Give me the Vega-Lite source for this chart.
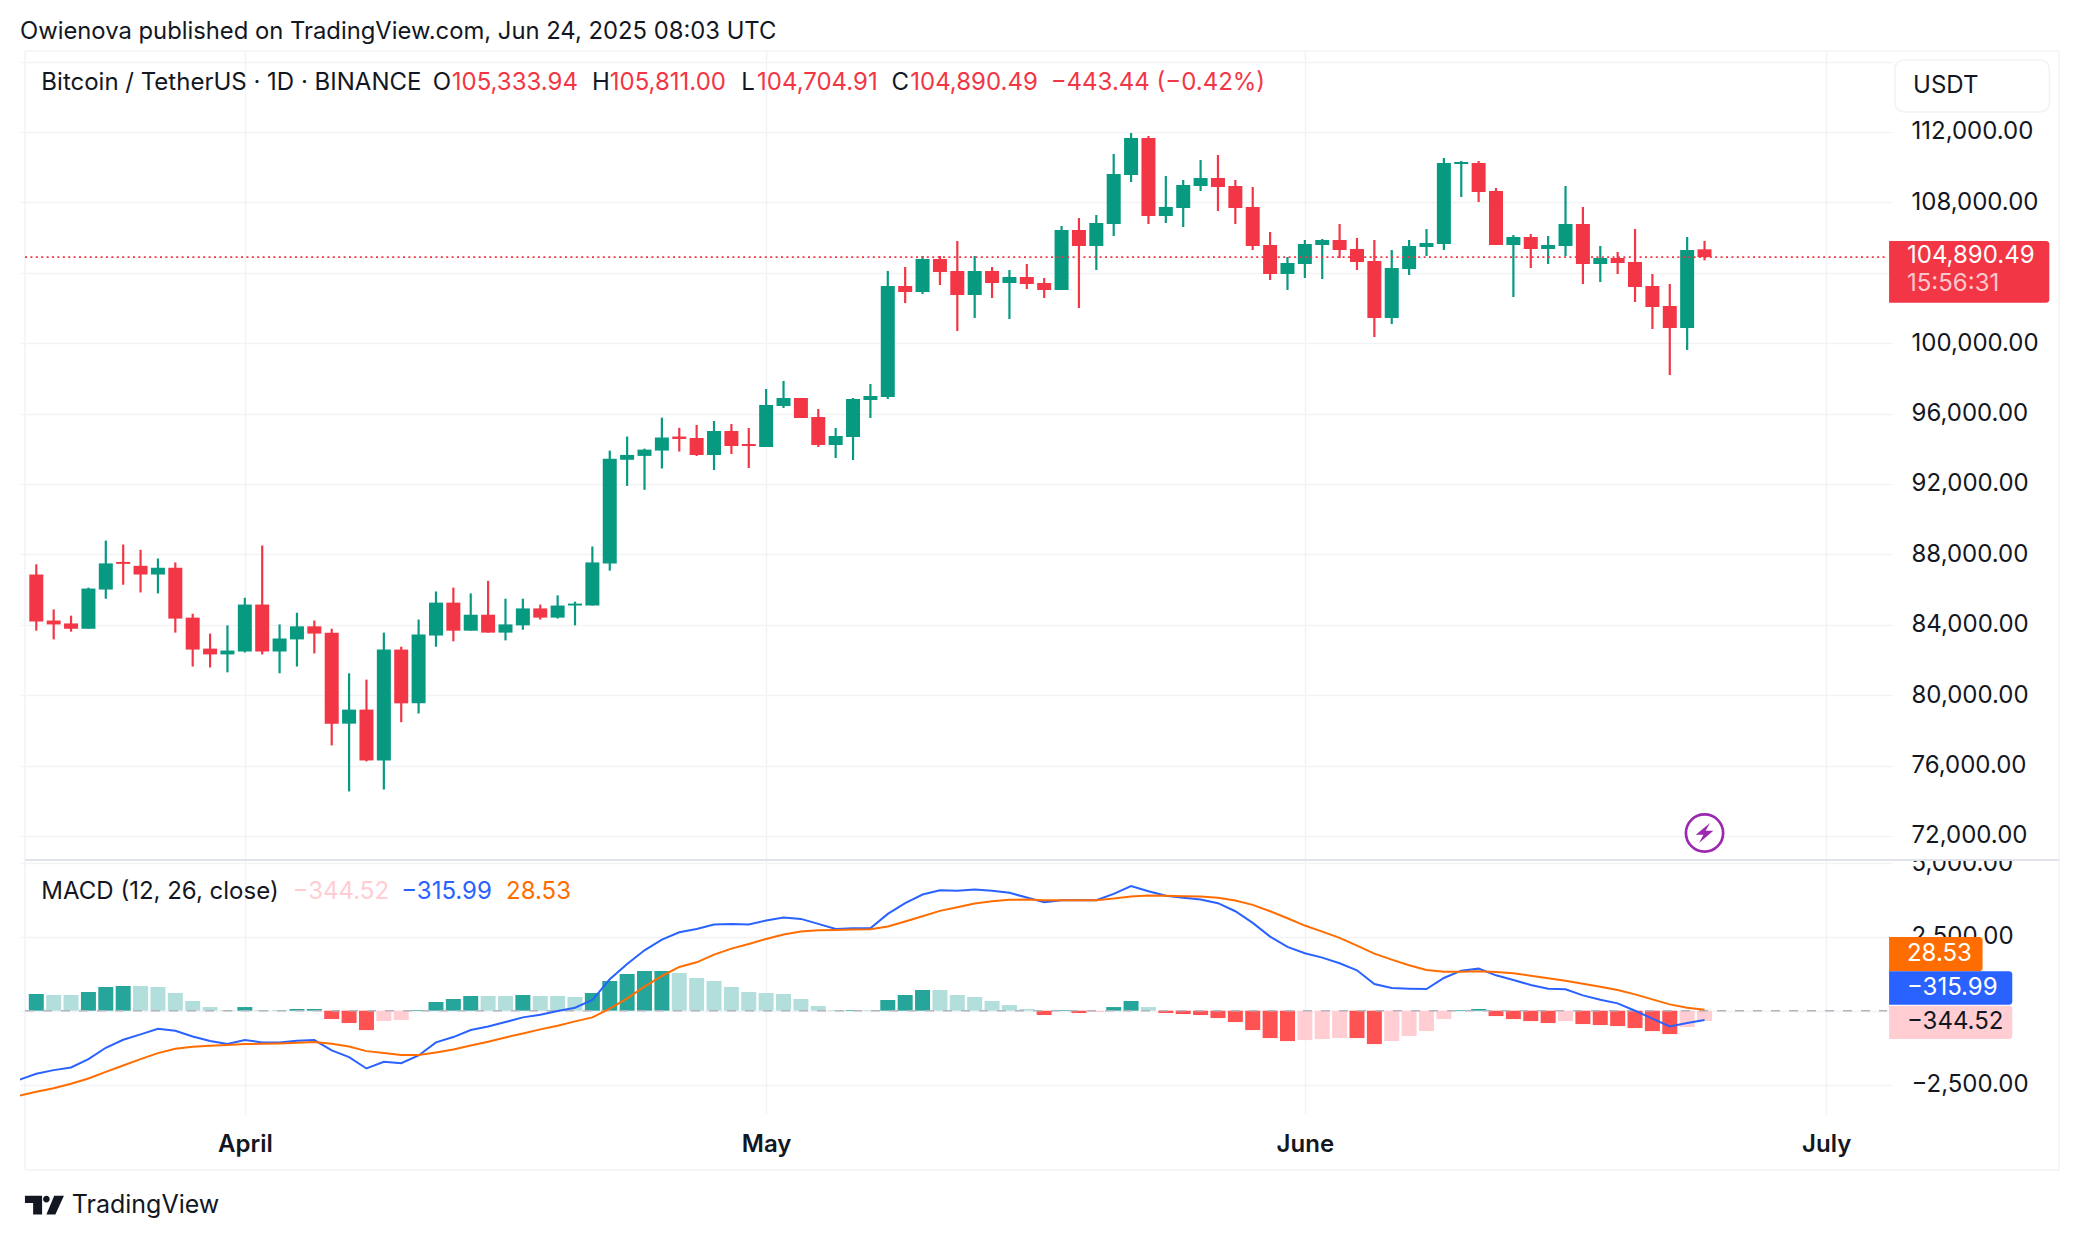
{
  "$schema": "https://vega.github.io/schema/vega-lite/v6.json",
  "background": "white",
  "padding": {"left": 20, "top": 20, "right": 0, "bottom": 0},
  "spacing": 0,
  "bounds": "flush",
  "title": {"text": "Owienova published on TradingView.com, Jun 24, 2025 08:03 UTC", "anchor": "start", "font": "Inter", "fontSize": 23.8, "fontWeight": "normal", "color": "#131722", "offset": 6},
  "config": {
    "view": {"stroke": null},
    "axis": {"gridColor": "#f2f3f5", "gridWidth": 1.5, "domain": false, "ticks": false, "title": null, "labelFont": "Inter", "labelFontSize": 24, "labelColor": "#131722"},
    "text": {"font": "Inter", "fontSize": 24, "align": "left", "baseline": "middle"}
  },
  "datasets": {
    "candles": [
      {"date":"2025-03-20","open":86856,"high":87434,"low":83665,"close":84187},
      {"date":"2025-03-21","open":84242,"high":84875,"low":83170,"close":84022},
      {"date":"2025-03-22","open":84077,"high":84518,"low":83610,"close":83775},
      {"date":"2025-03-23","open":83775,"high":86113,"low":83775,"close":86058},
      {"date":"2025-03-24","open":86003,"high":88782,"low":85480,"close":87489},
      {"date":"2025-03-25","open":87571,"high":88561,"low":86278,"close":87461},
      {"date":"2025-03-26","open":87351,"high":88259,"low":85838,"close":86856},
      {"date":"2025-03-27","open":86856,"high":87764,"low":85783,"close":87241},
      {"date":"2025-03-28","open":87241,"high":87544,"low":83555,"close":84352},
      {"date":"2025-03-29","open":84407,"high":84628,"low":81629,"close":82592},
      {"date":"2025-03-30","open":82647,"high":83500,"low":81574,"close":82317},
      {"date":"2025-03-31","open":82317,"high":83967,"low":81299,"close":82537},
      {"date":"2025-04-01","open":82482,"high":85535,"low":82427,"close":85150},
      {"date":"2025-04-02","open":85150,"high":88506,"low":82317,"close":82482},
      {"date":"2025-04-03","open":82482,"high":84022,"low":81244,"close":83225},
      {"date":"2025-04-04","open":83170,"high":84683,"low":81629,"close":83912},
      {"date":"2025-04-05","open":83912,"high":84242,"low":82372,"close":83500},
      {"date":"2025-04-06","open":83555,"high":83775,"low":77145,"close":78383},
      {"date":"2025-04-07","open":78383,"high":81244,"low":74531,"close":79181},
      {"date":"2025-04-08","open":79181,"high":80886,"low":76237,"close":76292},
      {"date":"2025-04-09","open":76292,"high":83555,"low":74641,"close":82592},
      {"date":"2025-04-10","open":82592,"high":82757,"low":78465,"close":79538},
      {"date":"2025-04-11","open":79538,"high":84297,"low":78960,"close":83445},
      {"date":"2025-04-12","open":83390,"high":85893,"low":82757,"close":85260},
      {"date":"2025-04-13","open":85260,"high":86113,"low":83059,"close":83665},
      {"date":"2025-04-14","open":83665,"high":85783,"low":83665,"close":84573},
      {"date":"2025-04-15","open":84573,"high":86498,"low":83555,"close":83555},
      {"date":"2025-04-16","open":83555,"high":85480,"low":83114,"close":84022},
      {"date":"2025-04-17","open":83967,"high":85480,"low":83720,"close":84930},
      {"date":"2025-04-18","open":84930,"high":85150,"low":84297,"close":84407},
      {"date":"2025-04-19","open":84407,"high":85673,"low":84352,"close":85095},
      {"date":"2025-04-20","open":85095,"high":85315,"low":83967,"close":85205},
      {"date":"2025-04-21","open":85095,"high":88451,"low":85095,"close":87544},
      {"date":"2025-04-22","open":87489,"high":93898,"low":87076,"close":93431},
      {"date":"2025-04-23","open":93376,"high":94696,"low":91890,"close":93651},
      {"date":"2025-04-24","open":93596,"high":94008,"low":91670,"close":93953},
      {"date":"2025-04-25","open":93898,"high":95769,"low":92881,"close":94641},
      {"date":"2025-04-26","open":94696,"high":95191,"low":93843,"close":94559},
      {"date":"2025-04-27","open":94613,"high":95352,"low":93590,"close":93647},
      {"date":"2025-04-28","open":93647,"high":95579,"low":92795,"close":95011},
      {"date":"2025-04-29","open":95011,"high":95409,"low":93704,"close":94159},
      {"date":"2025-04-30","open":94272,"high":95181,"low":92908,"close":94159},
      {"date":"2025-05-01","open":94102,"high":97397,"low":94102,"close":96488},
      {"date":"2025-05-02","open":96431,"high":97852,"low":96318,"close":96886},
      {"date":"2025-05-03","open":96886,"high":96886,"low":95749,"close":95749},
      {"date":"2025-05-04","open":95806,"high":96261,"low":94102,"close":94215},
      {"date":"2025-05-05","open":94215,"high":95181,"low":93477,"close":94727},
      {"date":"2025-05-06","open":94670,"high":96886,"low":93363,"close":96829},
      {"date":"2025-05-07","open":96772,"high":97681,"low":95749,"close":97000},
      {"date":"2025-05-08","open":96943,"high":104102,"low":96829,"close":103250},
      {"date":"2025-05-09","open":103250,"high":104329,"low":102284,"close":102909},
      {"date":"2025-05-10","open":102909,"high":104954,"low":102795,"close":104784},
      {"date":"2025-05-11","open":104784,"high":104954,"low":103307,"close":104045},
      {"date":"2025-05-12","open":104102,"high":105807,"low":100693,"close":102738},
      {"date":"2025-05-13","open":102738,"high":104954,"low":101431,"close":104102},
      {"date":"2025-05-14","open":104102,"high":104329,"low":102568,"close":103420},
      {"date":"2025-05-15","open":103420,"high":104159,"low":101375,"close":103761},
      {"date":"2025-05-16","open":103761,"high":104500,"low":103079,"close":103363},
      {"date":"2025-05-17","open":103420,"high":103704,"low":102568,"close":103022},
      {"date":"2025-05-18","open":103022,"high":106659,"low":103022,"close":106432},
      {"date":"2025-05-19","open":106432,"high":107113,"low":102000,"close":105523},
      {"date":"2025-05-20","open":105523,"high":107284,"low":104159,"close":106829},
      {"date":"2025-05-21","open":106773,"high":110750,"low":106091,"close":109614},
      {"date":"2025-05-22","open":109557,"high":111943,"low":109159,"close":111659},
      {"date":"2025-05-23","open":111659,"high":111773,"low":106773,"close":107227},
      {"date":"2025-05-24","open":107227,"high":109500,"low":106829,"close":107738},
      {"date":"2025-05-25","open":107682,"high":109273,"low":106602,"close":108989},
      {"date":"2025-05-26","open":108932,"high":110409,"low":108648,"close":109386},
      {"date":"2025-05-27","open":109386,"high":110693,"low":107511,"close":108875},
      {"date":"2025-05-28","open":108932,"high":109273,"low":106773,"close":107682},
      {"date":"2025-05-29","open":107738,"high":108875,"low":105295,"close":105523},
      {"date":"2025-05-30","open":105579,"high":106318,"low":103591,"close":103932},
      {"date":"2025-05-31","open":103932,"high":104897,"low":103022,"close":104557},
      {"date":"2025-06-01","open":104500,"high":105863,"low":103704,"close":105636},
      {"date":"2025-06-02","open":105579,"high":105920,"low":103647,"close":105863},
      {"date":"2025-06-03","open":105863,"high":106773,"low":104841,"close":105295},
      {"date":"2025-06-04","open":105352,"high":105977,"low":104159,"close":104613},
      {"date":"2025-06-05","open":104670,"high":105863,"low":100352,"close":101431},
      {"date":"2025-06-06","open":101431,"high":105295,"low":101091,"close":104272},
      {"date":"2025-06-07","open":104216,"high":105863,"low":103875,"close":105523},
      {"date":"2025-06-08","open":105466,"high":106488,"low":104954,"close":105693},
      {"date":"2025-06-09","open":105636,"high":110523,"low":105295,"close":110239},
      {"date":"2025-06-10","open":110182,"high":110352,"low":108307,"close":110295},
      {"date":"2025-06-11","open":110239,"high":110352,"low":108023,"close":108591},
      {"date":"2025-06-12","open":108648,"high":108818,"low":105579,"close":105579},
      {"date":"2025-06-13","open":105579,"high":106148,"low":102625,"close":106034},
      {"date":"2025-06-14","open":106034,"high":106204,"low":104272,"close":105352},
      {"date":"2025-06-15","open":105352,"high":106091,"low":104500,"close":105579},
      {"date":"2025-06-16","open":105523,"high":108932,"low":104954,"close":106773},
      {"date":"2025-06-17","open":106773,"high":107738,"low":103363,"close":104500},
      {"date":"2025-06-18","open":104500,"high":105523,"low":103477,"close":104841},
      {"date":"2025-06-19","open":104841,"high":105182,"low":103932,"close":104557},
      {"date":"2025-06-20","open":104613,"high":106488,"low":102341,"close":103193},
      {"date":"2025-06-21","open":103250,"high":103932,"low":100806,"close":102057},
      {"date":"2025-06-22","open":102113,"high":103363,"low":98193,"close":100863},
      {"date":"2025-06-23","open":100863,"high":106034,"low":99613,"close":105295},
      {"date":"2025-06-24","open":105333.94,"high":105811,"low":104704.91,"close":104890.49}
    ],
    "macd": [
      {"date":"2025-03-19","hist":null,"phase":null,"macd":-2341,"signal":-2884},
      {"date":"2025-03-20","hist":565,"phase":"up","macd":-2138,"signal":-2748},
      {"date":"2025-03-21","hist":532,"phase":"upFading","macd":-2013,"signal":-2624},
      {"date":"2025-03-22","hist":532,"phase":"upFading","macd":-1923,"signal":-2477},
      {"date":"2025-03-23","hist":633,"phase":"up","macd":-1640,"signal":-2296},
      {"date":"2025-03-24","hist":803,"phase":"up","macd":-1255,"signal":-2070},
      {"date":"2025-03-25","hist":837,"phase":"up","macd":-984,"signal":-1855},
      {"date":"2025-03-26","hist":837,"phase":"upFading","macd":-803,"signal":-1640},
      {"date":"2025-03-27","hist":803,"phase":"upFading","macd":-611,"signal":-1436},
      {"date":"2025-03-28","hist":600,"phase":"upFading","macd":-679,"signal":-1289},
      {"date":"2025-03-29","hist":328,"phase":"upFading","macd":-871,"signal":-1221},
      {"date":"2025-03-30","hist":124,"phase":"upFading","macd":-1029,"signal":-1188},
      {"date":"2025-03-31","hist":23,"phase":"upFading","macd":-1131,"signal":-1165},
      {"date":"2025-04-01","hist":124,"phase":"up","macd":-995,"signal":-1131},
      {"date":"2025-04-02","hist":23,"phase":"upFading","macd":-1074,"signal":-1120},
      {"date":"2025-04-03","hist":23,"phase":"upFading","macd":-1074,"signal":-1108},
      {"date":"2025-04-04","hist":57,"phase":"up","macd":-1018,"signal":-1086},
      {"date":"2025-04-05","hist":57,"phase":"up","macd":-995,"signal":-1063},
      {"date":"2025-04-06","hist":-283,"phase":"down","macd":-1346,"signal":-1120},
      {"date":"2025-04-07","hist":-418,"phase":"down","macd":-1572,"signal":-1210},
      {"date":"2025-04-08","hist":-656,"phase":"down","macd":-1957,"signal":-1369},
      {"date":"2025-04-09","hist":-351,"phase":"downFading","macd":-1730,"signal":-1436},
      {"date":"2025-04-10","hist":-317,"phase":"downFading","macd":-1776,"signal":-1504},
      {"date":"2025-04-11","hist":23,"phase":"up","macd":-1516,"signal":-1504},
      {"date":"2025-04-12","hist":294,"phase":"up","macd":-1074,"signal":-1414},
      {"date":"2025-04-13","hist":396,"phase":"up","macd":-893,"signal":-1312},
      {"date":"2025-04-14","hist":498,"phase":"up","macd":-656,"signal":-1176},
      {"date":"2025-04-15","hist":498,"phase":"upFading","macd":-532,"signal":-1052},
      {"date":"2025-04-16","hist":498,"phase":"upFading","macd":-385,"signal":-905},
      {"date":"2025-04-17","hist":532,"phase":"up","macd":-226,"signal":-769},
      {"date":"2025-04-18","hist":498,"phase":"upFading","macd":-136,"signal":-633},
      {"date":"2025-04-19","hist":498,"phase":"upFading","macd":-11,"signal":-509},
      {"date":"2025-04-20","hist":464,"phase":"upFading","macd":102,"signal":-362},
      {"date":"2025-04-21","hist":600,"phase":"up","macd":362,"signal":-226},
      {"date":"2025-04-22","hist":1007,"phase":"up","macd":1063,"signal":68},
      {"date":"2025-04-23","hist":1244,"phase":"up","macd":1583,"signal":418},
      {"date":"2025-04-24","hist":1346,"phase":"up","macd":2047,"signal":814},
      {"date":"2025-04-25","hist":1346,"phase":"up","macd":2409,"signal":1176},
      {"date":"2025-04-26","hist":1278,"phase":"upFading","macd":2658,"signal":1482},
      {"date":"2025-04-27","hist":1108,"phase":"upFading","macd":2771,"signal":1640},
      {"date":"2025-04-28","hist":1007,"phase":"upFading","macd":2918,"signal":1900},
      {"date":"2025-04-29","hist":803,"phase":"upFading","macd":2941,"signal":2104},
      {"date":"2025-04-30","hist":633,"phase":"upFading","macd":2918,"signal":2262},
      {"date":"2025-05-01","hist":600,"phase":"upFading","macd":3054,"signal":2432},
      {"date":"2025-05-02","hist":565,"phase":"upFading","macd":3155,"signal":2579},
      {"date":"2025-05-03","hist":396,"phase":"upFading","macd":3110,"signal":2680},
      {"date":"2025-05-04","hist":158,"phase":"upFading","macd":2941,"signal":2726},
      {"date":"2025-05-05","hist":23,"phase":"upFading","macd":2771,"signal":2737},
      {"date":"2025-05-06","hist":23,"phase":"up","macd":2794,"signal":2748},
      {"date":"2025-05-07","hist":23,"phase":"upFading","macd":2794,"signal":2760},
      {"date":"2025-05-08","hist":362,"phase":"up","macd":3280,"signal":2850},
      {"date":"2025-05-09","hist":532,"phase":"up","macd":3642,"signal":3020},
      {"date":"2025-05-10","hist":701,"phase":"up","macd":3936,"signal":3201},
      {"date":"2025-05-11","hist":701,"phase":"upFading","macd":4083,"signal":3382},
      {"date":"2025-05-12","hist":532,"phase":"upFading","macd":4060,"signal":3506},
      {"date":"2025-05-13","hist":464,"phase":"upFading","macd":4106,"signal":3631},
      {"date":"2025-05-14","hist":328,"phase":"upFading","macd":4060,"signal":3710},
      {"date":"2025-05-15","hist":192,"phase":"upFading","macd":3992,"signal":3755},
      {"date":"2025-05-16","hist":57,"phase":"upFading","macd":3834,"signal":3766},
      {"date":"2025-05-17","hist":-147,"phase":"down","macd":3676,"signal":3744},
      {"date":"2025-05-18","hist":23,"phase":"up","macd":3744,"signal":3744},
      {"date":"2025-05-19","hist":-79,"phase":"down","macd":3744,"signal":3744},
      {"date":"2025-05-20","hist":-45,"phase":"downFading","macd":3744,"signal":3744},
      {"date":"2025-05-21","hist":124,"phase":"up","macd":3959,"signal":3800},
      {"date":"2025-05-22","hist":328,"phase":"up","macd":4219,"signal":3868},
      {"date":"2025-05-23","hist":124,"phase":"upFading","macd":4049,"signal":3902},
      {"date":"2025-05-24","hist":-79,"phase":"down","macd":3891,"signal":3891},
      {"date":"2025-05-25","hist":-113,"phase":"down","macd":3823,"signal":3879},
      {"date":"2025-05-26","hist":-147,"phase":"down","macd":3766,"signal":3868},
      {"date":"2025-05-27","hist":-249,"phase":"down","macd":3642,"signal":3823},
      {"date":"2025-05-28","hist":-385,"phase":"down","macd":3370,"signal":3732},
      {"date":"2025-05-29","hist":-656,"phase":"down","macd":2975,"signal":3585},
      {"date":"2025-05-30","hist":-927,"phase":"down","macd":2511,"signal":3370},
      {"date":"2025-05-31","hist":-1029,"phase":"down","macd":2160,"signal":3133},
      {"date":"2025-06-01","hist":-995,"phase":"downFading","macd":1945,"signal":2884},
      {"date":"2025-06-02","hist":-961,"phase":"downFading","macd":1798,"signal":2680},
      {"date":"2025-06-03","hist":-927,"phase":"downFading","macd":1606,"signal":2466},
      {"date":"2025-06-04","hist":-927,"phase":"down","macd":1369,"signal":2205},
      {"date":"2025-06-05","hist":-1131,"phase":"down","macd":905,"signal":1934},
      {"date":"2025-06-06","hist":-1029,"phase":"downFading","macd":769,"signal":1730},
      {"date":"2025-06-07","hist":-860,"phase":"downFading","macd":746,"signal":1538},
      {"date":"2025-06-08","hist":-690,"phase":"downFading","macd":735,"signal":1380},
      {"date":"2025-06-09","hist":-283,"phase":"downFading","macd":1108,"signal":1323},
      {"date":"2025-06-10","hist":23,"phase":"up","macd":1357,"signal":1323},
      {"date":"2025-06-11","hist":57,"phase":"up","macd":1425,"signal":1335},
      {"date":"2025-06-12","hist":-181,"phase":"down","macd":1199,"signal":1312},
      {"date":"2025-06-13","hist":-283,"phase":"down","macd":1041,"signal":1267},
      {"date":"2025-06-14","hist":-351,"phase":"down","macd":871,"signal":1188},
      {"date":"2025-06-15","hist":-418,"phase":"down","macd":746,"signal":1097},
      {"date":"2025-06-16","hist":-351,"phase":"downFading","macd":724,"signal":1018},
      {"date":"2025-06-17","hist":-452,"phase":"down","macd":520,"signal":916},
      {"date":"2025-06-18","hist":-486,"phase":"down","macd":373,"signal":814},
      {"date":"2025-06-19","hist":-520,"phase":"down","macd":249,"signal":701},
      {"date":"2025-06-20","hist":-588,"phase":"down","macd":0,"signal":554},
      {"date":"2025-06-21","hist":-690,"phase":"down","macd":-271,"signal":385},
      {"date":"2025-06-22","hist":-792,"phase":"down","macd":-532,"signal":215},
      {"date":"2025-06-23","hist":-554,"phase":"downFading","macd":-418,"signal":102},
      {"date":"2025-06-24","hist":-344.52,"phase":"downFading","macd":-315.99,"signal":28.53}
    ]
  },
  "vconcat": [
    {
      "width": 1872,
      "height": 809,
      "encoding": {
        "x": {"type": "temporal", "axis": {"labels": false, "grid": true, "values": [{"year":2025,"month":"apr","date":1,"utc":true},{"year":2025,"month":"may","date":1,"utc":true},{"year":2025,"month":"jun","date":1,"utc":true},{"year":2025,"month":"jul","date":1,"utc":true}]}, "scale": {"type": "utc", "domain": [{"year":2025,"month":"mar","date":19,"hours":8,"minutes":24,"utc":true},{"year":2025,"month":"jul","date":4,"hours":12,"utc":true}]}}
      },
      "layer": [
        {
          "data": {"values": [
            {"x0":"2025-03-19T08:24:00Z","x1":"2025-07-14T09:36:00Z","y0":116602,"y1":116602},
            {"x0":"2025-03-19T08:24:00Z","x1":"2025-03-19T08:24:00Z","y0":116602,"y1":70636},
            {"x0":"2025-07-14T09:36:00Z","x1":"2025-07-14T09:36:00Z","y0":116602,"y1":70636}
          ]},
          "mark": {"type": "rule", "color": "#f2f3f5", "strokeWidth": 1.5},
          "encoding": {
            "x": {"field": "x0"},
            "x2": {"field": "x1"},
            "y": {"field": "y0", "type": "quantitative", "scale": {"domain": [70636, 116602]}, "axis": {"orient": "right", "grid": true, "values": [72000,76000,80000,84000,88000,92000,96000,100000,104000,108000,112000,116000], "format": ",.2f", "labelPadding": 19, "labelExpr": "datum.value > 112000 ? '' : datum.label"}},
            "y2": {"field": "y1"}
          }
        },
        {
          "data": {"name": "candles"},
          "mark": {"type": "rule", "strokeWidth": 2.2},
          "encoding": {
            "x": {"field": "date"},
            "y": {"field": "low", "type": "quantitative", "scale": {"domain": [70636, 116602]}},
            "y2": {"field": "high"},
            "color": {"condition": {"test": "datum.close >= datum.open", "value": "#089981"}, "value": "#f23645"}
          }
        },
        {
          "data": {"name": "candles"},
          "mark": {"type": "bar", "size": 14},
          "encoding": {
            "x": {"field": "date"},
            "y": {"field": "open", "type": "quantitative", "scale": {"domain": [70636, 116602]}},
            "y2": {"field": "close"},
            "color": {"condition": {"test": "datum.close >= datum.open", "value": "#089981"}, "value": "#f23645"}
          }
        },
        {
          "data": {"values": [{"x0":"2025-03-19T08:24:00Z","x1":"2025-07-04T12:00:00Z","last":104890.49}]},
          "mark": {"type": "rule", "color": "#f23645", "strokeWidth": 1.6, "strokeDash": [2, 3.4]},
          "encoding": {
            "x": {"field": "x0"},
            "x2": {"field": "x1"},
            "y": {"field": "last", "type": "quantitative", "scale": {"domain": [70636, 116602]}}
          }
        },
        {
          "data": {"values": [{"x0":"2025-07-04T23:00:00Z","x1":"2025-07-13T20:10:00Z","y0":116091,"y1":113136}]},
          "mark": {"type": "rect", "fill": "white", "stroke": "#f0f3f5", "strokeWidth": 1.5, "cornerRadius": 9},
          "encoding": {
            "x": {"field": "x0"},
            "x2": {"field": "x1"},
            "y": {"field": "y0", "type": "quantitative", "scale": {"domain": [70636, 116602]}},
            "y2": {"field": "y1"}
          }
        },
        {
          "data": {"values": [{"x0":"2025-07-04T14:53:00Z","x1":"2025-07-13T20:10:00Z","y0":105807,"y1":102301}]},
          "mark": {"type": "rect", "fill": "#f23645", "cornerRadiusTopRight": 3, "cornerRadiusBottomRight": 3},
          "encoding": {
            "x": {"field": "x0"},
            "x2": {"field": "x1"},
            "y": {"field": "y0", "type": "quantitative", "scale": {"domain": [70636, 116602]}},
            "y2": {"field": "y1"}
          }
        },
        {
          "data": {"values": [
            {"label":"Bitcoin / TetherUS · 1D · BINANCE","when":"2025-03-20T07:00:00Z","at":114784},
            {"label":"O","when":"2025-04-11T19:40:00Z","at":114784},
            {"label":"H","when":"2025-04-20T23:30:00Z","at":114784},
            {"label":"L","when":"2025-04-29T13:30:00Z","at":114784},
            {"label":"C","when":"2025-05-08T05:00:00Z","at":114784},
            {"label":"USDT","when":"2025-07-06T00:00:00Z","at":114614}
          ]},
          "mark": {"type": "text", "color": "#131722"},
          "encoding": {
            "x": {"field": "when"},
            "y": {"field": "at", "type": "quantitative", "scale": {"domain": [70636, 116602]}},
            "text": {"field": "label"}
          }
        },
        {
          "data": {"values": [
            {"label":"105,333.94","when":"2025-04-12T21:45:00Z","at":114784},
            {"label":"105,811.00","when":"2025-04-22T00:00:00Z","at":114784},
            {"label":"104,704.91","when":"2025-04-30T11:30:00Z","at":114784},
            {"label":"104,890.49","when":"2025-05-09T07:00:00Z","at":114784},
            {"label":"−443.44 (−0.42%)","when":"2025-05-17T09:00:00Z","at":114784}
          ]},
          "mark": {"type": "text", "color": "#f23645"},
          "encoding": {
            "x": {"field": "when"},
            "y": {"field": "at", "type": "quantitative", "scale": {"domain": [70636, 116602]}},
            "text": {"field": "label"}
          }
        },
        {
          "data": {"values": [{"label":"104,890.49","when":"2025-07-05T15:36:00Z","at":104955}]},
          "mark": {"type": "text", "color": "white"},
          "encoding": {
            "x": {"field": "when"},
            "y": {"field": "at", "type": "quantitative", "scale": {"domain": [70636, 116602]}},
            "text": {"field": "label"}
          }
        },
        {
          "data": {"values": [{"label":"15:56:31","when":"2025-07-05T15:36:00Z","at":103364}]},
          "mark": {"type": "text", "color": "#fbc7cc"},
          "encoding": {
            "x": {"field": "when"},
            "y": {"field": "at", "type": "quantitative", "scale": {"domain": [70636, 116602]}},
            "text": {"field": "label"}
          }
        },
        {
          "data": {"values": [{"when":"2025-06-24","at":72170}]},
          "mark": {"type": "point", "shape": "circle", "size": 1385, "filled": false, "fill": "white", "fillOpacity": 1, "opacity": 1, "stroke": "#9c27b0", "strokeWidth": 2.7},
          "encoding": {
            "x": {"field": "when"},
            "y": {"field": "at", "type": "quantitative", "scale": {"domain": [70636, 116602]}}
          }
        },
        {
          "data": {"values": [{"when":"2025-06-24","at":72170}]},
          "mark": {"type": "point", "shape": "M.5,-.9L-.8,.15H-.1L-.5,.9L.8,-.2H.1Z", "size": 484, "filled": true, "opacity": 1, "color": "#9c27b0"},
          "encoding": {
            "x": {"field": "when"},
            "y": {"field": "at", "type": "quantitative", "scale": {"domain": [70636, 116602]}}
          }
        }
      ]
    },
    {
      "width": 1872,
      "height": 254,
      "encoding": {
        "x": {"type": "temporal", "axis": {"orient": "bottom", "grid": true, "values": [{"year":2025,"month":"apr","date":1,"utc":true},{"year":2025,"month":"may","date":1,"utc":true},{"year":2025,"month":"jun","date":1,"utc":true},{"year":2025,"month":"jul","date":1,"utc":true}], "format": "%b", "formatType": "utc", "labelFontWeight": 600, "labelPadding": 18, "labelFlush": false, "labelAlign": "center"}, "scale": {"type": "utc", "domain": [{"year":2025,"month":"mar","date":19,"hours":8,"minutes":24,"utc":true},{"year":2025,"month":"jul","date":4,"hours":12,"utc":true}]}}
      },
      "layer": [
        {
          "data": {"values": [
            {"x0":"2025-03-19T08:24:00Z","x1":"2025-07-14T09:36:00Z","y0":-5396,"y1":-5396},
            {"x0":"2025-03-19T08:24:00Z","x1":"2025-03-19T08:24:00Z","y0":5105,"y1":-5396},
            {"x0":"2025-07-14T09:36:00Z","x1":"2025-07-14T09:36:00Z","y0":5105,"y1":-5396}
          ]},
          "mark": {"type": "rule", "color": "#f2f3f5", "strokeWidth": 1.5},
          "encoding": {
            "x": {"field": "x0"},
            "x2": {"field": "x1"},
            "y": {"field": "y0", "type": "quantitative", "scale": {"domain": [-3499, 5105]}, "axis": {"orient": "right", "grid": true, "values": [-2500, 0, 2500, 5000], "format": ",.2f", "labelPadding": 19, "labelExpr": "datum.value == 0 ? '' : datum.label"}},
            "y2": {"field": "y1"}
          }
        },
        {
          "data": {"name": "macd"},
          "mark": {"type": "bar", "size": 15},
          "encoding": {
            "x": {"field": "date"},
            "y": {"field": "hist", "type": "quantitative", "scale": {"domain": [-3499, 5105]}},
            "color": {"field": "phase", "type": "nominal", "legend": null, "scale": {"domain": ["up", "upFading", "down", "downFading"], "range": ["#26a69a", "#b2dfdb", "#ff5252", "#ffcdd2"]}}
          }
        },
        {
          "data": {"values": [{"x0":"2025-03-19T08:24:00Z","x1":"2025-07-04T12:00:00Z","level":0}]},
          "mark": {"type": "rule", "color": "#b2b5be", "strokeWidth": 1.5, "strokeDash": [9, 9]},
          "encoding": {
            "x": {"field": "x0"},
            "x2": {"field": "x1"},
            "y": {"field": "level", "type": "quantitative", "scale": {"domain": [-3499, 5105]}}
          }
        },
        {
          "data": {"name": "macd"},
          "mark": {"type": "line", "color": "#2962ff", "strokeWidth": 2, "clip": true},
          "encoding": {
            "x": {"field": "date"},
            "y": {"field": "macd", "type": "quantitative", "scale": {"domain": [-3499, 5105]}}
          }
        },
        {
          "data": {"name": "macd"},
          "mark": {"type": "line", "color": "#ff6d00", "strokeWidth": 2, "clip": true},
          "encoding": {
            "x": {"field": "date"},
            "y": {"field": "signal", "type": "quantitative", "scale": {"domain": [-3499, 5105]}}
          }
        },
        {
          "data": {"values": [{"x0":"2025-07-04T14:53:00Z","x1":"2025-07-14T00:00:00Z","y0":5105,"y1":5510}]},
          "mark": {"type": "rect", "fill": "white"},
          "encoding": {
            "x": {"field": "x0"},
            "x2": {"field": "x1"},
            "y": {"field": "y0", "type": "quantitative", "scale": {"domain": [-3499, 5105]}},
            "y2": {"field": "y1"}
          }
        },
        {
          "data": {"values": [{"x0":"2025-03-19T08:24:00Z","x1":"2025-07-14T09:36:00Z","y0":5105}]},
          "mark": {"type": "rule", "color": "#e0e3eb", "strokeWidth": 2},
          "encoding": {
            "x": {"field": "x0"},
            "x2": {"field": "x1"},
            "y": {"field": "y0", "type": "quantitative", "scale": {"domain": [-3499, 5105]}}
          }
        },
        {
          "data": {"values": [{"x0":"2025-07-04T14:53:00Z","x1":"2025-07-10T00:00:00Z","y0":2497,"y1":1335}]},
          "mark": {"type": "rect", "fill": "#ff6d00", "cornerRadiusTopRight": 3, "cornerRadiusBottomRight": 3},
          "encoding": {
            "x": {"field": "x0"},
            "x2": {"field": "x1"},
            "y": {"field": "y0", "type": "quantitative", "scale": {"domain": [-3499, 5105]}},
            "y2": {"field": "y1"}
          }
        },
        {
          "data": {"values": [{"x0":"2025-07-04T14:53:00Z","x1":"2025-07-11T17:00:00Z","y0":1335,"y1":203}]},
          "mark": {"type": "rect", "fill": "#2962ff", "cornerRadiusTopRight": 3, "cornerRadiusBottomRight": 3},
          "encoding": {
            "x": {"field": "x0"},
            "x2": {"field": "x1"},
            "y": {"field": "y0", "type": "quantitative", "scale": {"domain": [-3499, 5105]}},
            "y2": {"field": "y1"}
          }
        },
        {
          "data": {"values": [{"x0":"2025-07-04T14:53:00Z","x1":"2025-07-11T17:00:00Z","y0":169,"y1":-959}]},
          "mark": {"type": "rect", "fill": "#ffcdd2", "cornerRadiusTopRight": 3, "cornerRadiusBottomRight": 3},
          "encoding": {
            "x": {"field": "x0"},
            "x2": {"field": "x1"},
            "y": {"field": "y0", "type": "quantitative", "scale": {"domain": [-3499, 5105]}},
            "y2": {"field": "y1"}
          }
        },
        {
          "data": {"values": [
            {"label":"MACD (12, 26, close)","when":"2025-03-20T07:00:00Z","at":4020},
            {"label":"−344.52","when":"2025-07-05T15:36:00Z","at":-383}
          ]},
          "mark": {"type": "text", "color": "#131722"},
          "encoding": {
            "x": {"field": "when"},
            "y": {"field": "at", "type": "quantitative", "scale": {"domain": [-3499, 5105]}},
            "text": {"field": "label"}
          }
        },
        {
          "data": {"values": [{"label":"−344.52","when":"2025-04-03T18:00:00Z","at":4020}]},
          "mark": {"type": "text", "color": "#ffcdd2"},
          "encoding": {
            "x": {"field": "when"},
            "y": {"field": "at", "type": "quantitative", "scale": {"domain": [-3499, 5105]}},
            "text": {"field": "label"}
          }
        },
        {
          "data": {"values": [{"label":"−315.99","when":"2025-04-10T00:00:00Z","at":4020}]},
          "mark": {"type": "text", "color": "#2962ff"},
          "encoding": {
            "x": {"field": "when"},
            "y": {"field": "at", "type": "quantitative", "scale": {"domain": [-3499, 5105]}},
            "text": {"field": "label"}
          }
        },
        {
          "data": {"values": [{"label":"28.53","when":"2025-04-16T00:45:00Z","at":4020}]},
          "mark": {"type": "text", "color": "#ff6d00"},
          "encoding": {
            "x": {"field": "when"},
            "y": {"field": "at", "type": "quantitative", "scale": {"domain": [-3499, 5105]}},
            "text": {"field": "label"}
          }
        },
        {
          "data": {"values": [
            {"label":"28.53","when":"2025-07-05T15:36:00Z","at":1921},
            {"label":"−315.99","when":"2025-07-05T15:36:00Z","at":769}
          ]},
          "mark": {"type": "text", "color": "white"},
          "encoding": {
            "x": {"field": "when"},
            "y": {"field": "at", "type": "quantitative", "scale": {"domain": [-3499, 5105]}},
            "text": {"field": "label"}
          }
        },
        {
          "data": {"values": [{"label":"TradingView","when":"2025-03-22T01:00:00Z","at":-6582}]},
          "mark": {"type": "text", "color": "#131722", "fontSize": 25},
          "encoding": {
            "x": {"field": "when"},
            "y": {"field": "at", "type": "quantitative", "scale": {"domain": [-3499, 5105]}},
            "text": {"field": "label"}
          }
        },
        {
          "data": {"values": [{"when":"2025-03-20T11:15:00Z","at":-6582}]},
          "mark": {"type": "point", "shape": "M-1,-.47H-.12V.49H-.58V-.1H-1ZM-.07,-.3a.17,.17 0 1,0 .34,0a.17,.17 0 1,0 -.34,0ZM.5,-.47H1L.56,.49H.1Z", "size": 1521, "filled": true, "opacity": 1, "color": "#131722"},
          "encoding": {
            "x": {"field": "when"},
            "y": {"field": "at", "type": "quantitative", "scale": {"domain": [-3499, 5105]}}
          }
        }
      ]
    }
  ]
}
